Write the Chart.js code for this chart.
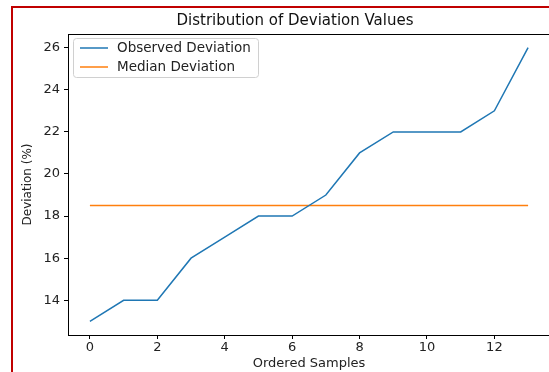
<!DOCTYPE html>
<html><head><meta charset="utf-8">
<script src="https://cdn.jsdelivr.net/npm/chart.js@4"></script>
<style>
html,body{margin:0;padding:0;background:#fff;overflow:hidden;width:549px;height:372px;}
#frame{position:absolute;left:11px;top:6px;width:600px;height:400px;border-left:2px solid #c00000;border-top:2px solid #c00000;box-sizing:border-box;}
#wrap{position:absolute;left:0;top:0;width:560px;height:372px;}
</style></head>
<body>
<div id="frame"></div>
<div id="wrap"><canvas id="c" width="560" height="372"></canvas></div>
<script>
const samples = [0,1,2,3,4,5,6,7,8,9,10,11,12,13];
const observed = [13,14,14,16,17,18,18,19,21,22,22,22,23,26];
const median = 18.5;
const xTicks = [0,2,4,6,8,10,12];
const yTicks = [14,16,18,20,22,24,26];
const seriesNames = ["Observed Deviation","Median Deviation"];
const chartTitle = "Distribution of Deviation Values";
const colors = ["#1f77b4","#ff7f0e"];
const FONT = "DejaVu Sans";

const framePlugin = {
  id:'frameBox',
  afterDraw(chart){
    const a = chart.chartArea, ctx = chart.ctx;
    ctx.save();
    ctx.strokeStyle = '#000'; ctx.lineWidth = 1;
    ctx.strokeRect(Math.round(a.left)+0.5, Math.round(a.top)+0.5, Math.round(a.right-a.left), Math.round(a.bottom-a.top));
    // title
    ctx.fillStyle = '#111';
    ctx.font = '15px "'+FONT+'"';
    ctx.textAlign = 'center'; ctx.textBaseline = 'middle';
    ctx.fillText(chartTitle, 295, 21);
    // legend
    ctx.textAlign = 'left';
    const lx = a.left+5, ly = a.top+4, lw = 185, lh = 39;
    ctx.fillStyle = 'rgba(255,255,255,0.8)';
    ctx.strokeStyle = '#d0d0d0';
    ctx.beginPath();
    if (ctx.roundRect) ctx.roundRect(lx+0.5, ly+0.5, lw, lh, 3); else ctx.rect(lx+0.5,ly+0.5,lw,lh);
    ctx.fill(); ctx.stroke();
    ctx.font = '13.5px "'+FONT+'"';
    ctx.textBaseline = 'middle';
    seriesNames.forEach((n,i)=>{
      const y = ly + 10 + i*19;
      ctx.strokeStyle = colors[i]; ctx.lineWidth = 1.5;
      ctx.beginPath(); ctx.moveTo(lx+7, y); ctx.lineTo(lx+35, y); ctx.stroke();
      ctx.fillStyle = '#222';
      ctx.fillText(n, lx+44, y+0.5);
    });
    ctx.restore();
  }
};

new Chart(document.getElementById('c'), {
  type:'line',
  data:{
    datasets:[
      {label:seriesNames[0], data:samples.map((x,i)=>({x:x,y:observed[i]})), borderColor:colors[0], borderWidth:1.5, pointRadius:0, tension:0, fill:false},
      {label:seriesNames[1], data:samples.map(x=>({x:x,y:median})), borderColor:colors[1], borderWidth:1.5, pointRadius:0, tension:0, fill:false}
    ]
  },
  options:{
    responsive:false, animation:false,
    layout:{padding:{left:0,right:10,top:34,bottom:0}},
    plugins:{
      legend:{display:false}, tooltip:{enabled:false}, title:{display:false}
    },
    scales:{
      x:{type:'linear', min:-0.65, max:13.65,
        afterBuildTicks(s){ s.ticks = xTicks.map(v=>({value:v})); },
        afterFit(s){ s.height = 37; },
        grid:{drawOnChartArea:false, drawTicks:true, tickLength:4, color:'#000'},
        border:{color:'#000', width:1},
        ticks:{color:'#222', font:{family:FONT,size:13}, padding:1, maxRotation:0},
        title:{display:true, text:'Ordered Samples', color:'#222', font:{family:FONT,size:13}, padding:{top:0,bottom:1}}
      },
      y:{type:'linear', min:12.35, max:26.65,
        afterBuildTicks(s){ s.ticks = yTicks.map(v=>({value:v})); },
        afterFit(s){ s.width = 68; },
        grid:{drawOnChartArea:false, drawTicks:true, tickLength:4, color:'#000'},
        border:{color:'#000', width:1},
        ticks:{color:'#222', font:{family:FONT,size:13}, padding:4},
        title:{display:true, text:'Deviation (%)', color:'#222', font:{family:FONT,size:12}, padding:{top:21,bottom:0}}
      }
    }
  },
  plugins:[framePlugin]
});
</script>
</body></html>
